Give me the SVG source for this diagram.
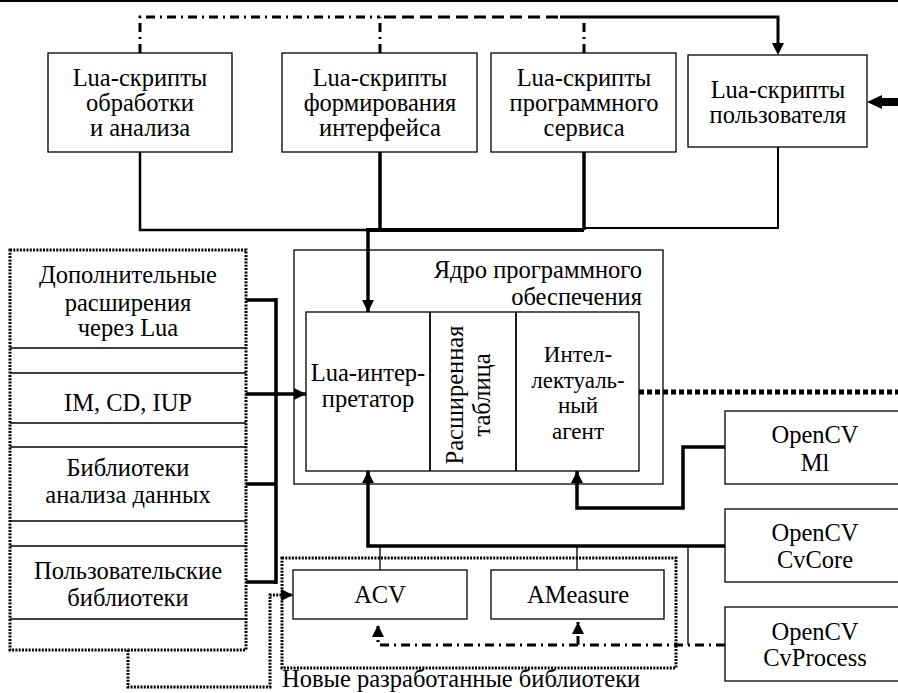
<svg xmlns="http://www.w3.org/2000/svg" width="898" height="693" viewBox="0 0 898 693" font-family="'Liberation Serif','Times New Roman',serif">
<style>
text{font-family:'Liberation Serif','Times New Roman',serif;font-size:24.5px;fill:#000;text-anchor:middle}
.sm{font-size:23px}
.box{fill:#fff;stroke:#000;stroke-width:1.3}
.dotbox{fill:none;stroke:#000;stroke-width:3;stroke-dasharray:2 1.3}
.c{fill:none;stroke:#000}
.th{stroke-width:3.5}
.md{stroke-width:2.5}
.tn{stroke-width:1.3}
.dd{stroke-width:3;stroke-dasharray:9 5 2 5}
.da{stroke-width:3;stroke-dasharray:12 6}
</style>
<defs>
<marker id="ar" viewBox="0 0 10 10" refX="10" refY="5" markerWidth="12" markerHeight="12" markerUnits="userSpaceOnUse" orient="auto"><path d="M0,0 L10,5 L0,10 Z" fill="#000"/></marker>
</defs>
<line x1="0" y1="1" x2="898" y2="1" stroke="#000" stroke-width="2"/>

<g id="n-obr"><rect class="box" x="48" y="53" width="184" height="99"/><text x="140" y="86">Lua-скрипты</text><text x="140" y="111">обработки</text><text x="140" y="136">и анализа</text></g>
<g id="n-form"><rect class="box" x="282" y="53" width="195" height="99"/><text x="380" y="86">Lua-скрипты</text><text x="380" y="111">формирования</text><text x="380" y="136">интерфейса</text></g>
<g id="n-serv"><rect class="box" x="491" y="53" width="185" height="99"/><text x="584" y="86">Lua-скрипты</text><text x="584" y="111">программного</text><text x="584" y="136">сервиса</text></g>
<g id="n-user"><rect class="box" x="688" y="55" width="179" height="92"/><text x="778" y="98">Lua-скрипты</text><text x="778" y="123">пользователя</text></g>

<g id="n-left">
<rect x="10" y="250" width="236" height="400" fill="#fff"/>
<line class="c tn" x1="10" y1="348" x2="246" y2="348"/>
<line class="c tn" x1="10" y1="373" x2="246" y2="373"/>
<line class="c tn" x1="10" y1="423" x2="246" y2="423"/>
<line class="c tn" x1="10" y1="447" x2="246" y2="447"/>
<line class="c tn" x1="10" y1="521" x2="246" y2="521"/>
<line class="c tn" x1="10" y1="546" x2="246" y2="546"/>
<line class="c tn" x1="10" y1="619" x2="246" y2="619"/>
<rect class="dotbox" x="10" y="250" width="236" height="400"/>
<text x="128" y="283">Дополнительные</text><text x="128" y="311">расширения</text><text x="128" y="336">через Lua</text>
<text x="128" y="411">IM, CD, IUP</text>
<text x="128" y="476">Библиотеки</text><text x="128" y="503">анализа данных</text>
<text x="128" y="579">Пользовательские</text><text x="128" y="606">библиотеки</text>
</g>

<g id="n-core">
<rect class="box" x="294" y="250" width="369" height="234"/>
<text x="642" y="278" style="text-anchor:end">Ядро программного</text>
<text x="642" y="305" style="text-anchor:end">обеспечения</text>
<rect class="box" x="306" y="312" width="333" height="159" stroke-width="1.5"/>
<line class="c" x1="430" y1="312" x2="430" y2="471" stroke-width="1.8"/>
<line class="c" x1="516" y1="312" x2="516" y2="471" stroke-width="1.8"/>
<text x="368" y="381">Lua-интер-</text><text x="368" y="407">претатор</text>
<text transform="translate(463,395) rotate(-90)">Расширенная</text>
<text transform="translate(490,395) rotate(-90)">таблица</text>
<text class="sm" x="578" y="362">Интел-</text><text class="sm" x="578" y="388">лектуаль-</text><text class="sm" x="578" y="413">ный</text><text class="sm" x="578" y="439">агент</text>
</g>

<g id="n-ml"><rect class="box" x="725" y="411" width="180" height="73"/><text x="815" y="443">OpenCV</text><text x="815" y="471">Ml</text></g>
<g id="n-cvcore"><rect class="box" x="725" y="509" width="180" height="73"/><text x="815" y="541">OpenCV</text><text x="815" y="568">CvCore</text></g>
<g id="n-cvproc"><rect class="box" x="725" y="607" width="180" height="74"/><text x="815" y="640">OpenCV</text><text x="815" y="666">CvProcess</text></g>

<g id="n-new">
<rect class="dotbox" x="282" y="558" width="394" height="110"/>
<rect class="box" x="293" y="570" width="174" height="49"/><text x="380" y="603">ACV</text>
<rect class="box" x="491" y="570" width="173" height="49"/><text x="578" y="603">AMeasure</text>
<text x="282" y="687" style="text-anchor:start">Новые разработанные библиотеки</text>
</g>

<g id="connectors">
<path class="c dd" d="M140,53 V17 H380"/>
<path class="c dd" d="M380,53 V17"/>
<path class="c dd" d="M584,53 V17"/>
<path class="c da" d="M384,17 H560"/>
<path class="c" d="M560,17 H778 V45" stroke-width="3"/>
<path d="M772,43 L784,43 L778,55 Z" fill="#000"/>
<path d="M898,98 H882 V95 L867,102 L882,109 V106 H898 Z" fill="#000"/>

<path class="c md" d="M140,152 V230 H370"/>
<path class="c th" d="M380,152 V230"/>
<path class="c" d="M366,230 H584" stroke-width="4"/>
<path class="c th" d="M584,152 V230"/>
<path class="c" d="M584,228 H778 V147" stroke-width="2"/>
<path class="c th" d="M368,230 V312" marker-end="url(#ar)"/>

<path class="c th" d="M246,300 H276 M246,394 H276 M246,484 H276 M246,582 H276 M276,298 V584"/>
<path class="c th" d="M274,394 H306" marker-end="url(#ar)"/>

<path class="c th" d="M725,546 H368 V471" marker-end="url(#ar)"/>
<path class="c th" d="M725,447 H683 V508 H577 V471" marker-end="url(#ar)"/>

<path class="c tn" d="M380,546 V570 M577,546 V570 M688,546 V645"/>

<path class="c dd" d="M725,645 H378 V625" marker-end="url(#ar)" stroke-width="2.5"/>
<path class="c dd" d="M578,645 V622" marker-end="url(#ar)" stroke-width="2.5"/>

<path class="c" d="M128,650 V687 H270 V595 H293" stroke-width="3" stroke-dasharray="2 1.3" marker-end="url(#ar)"/>
<path class="c" d="M639,392 H898" stroke-width="5" stroke-dasharray="5 3"/>
</g>
</svg>
